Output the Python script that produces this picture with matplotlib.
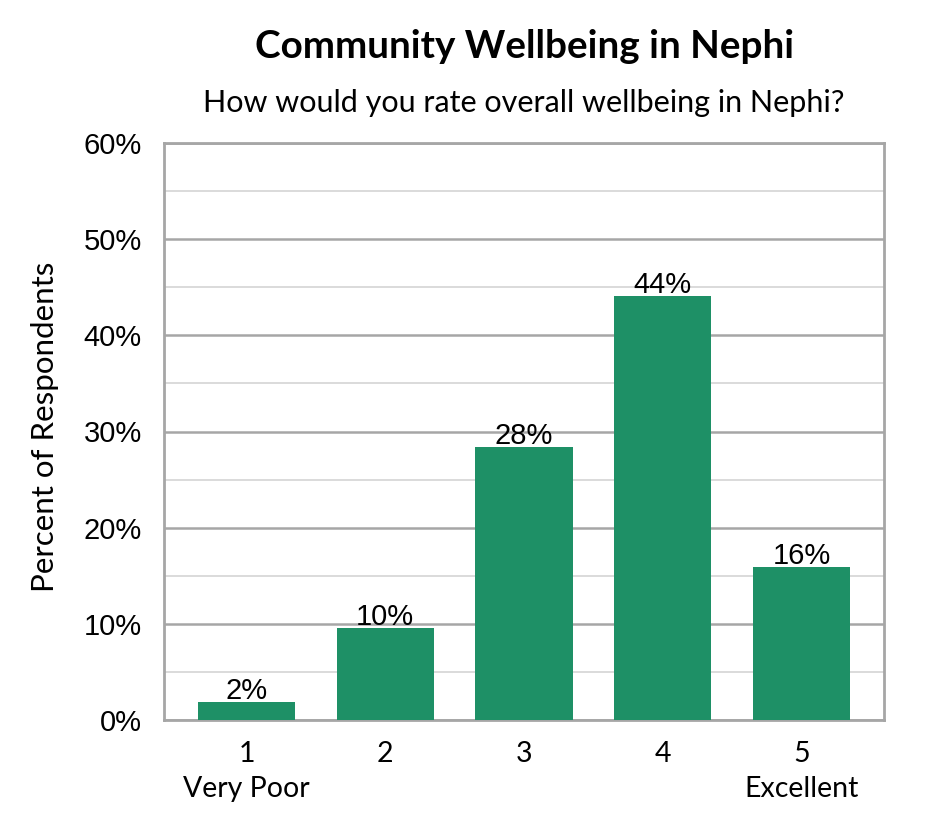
import matplotlib
matplotlib.use("Agg")
import matplotlib.pyplot as plt
from matplotlib.ticker import MultipleLocator, FuncFormatter

categories = ["1\nVery Poor", "2", "3", "4", "5\nExcellent"]
values = [1.9, 9.6, 28.4, 44.1, 15.9]
labels = ["2%", "10%", "28%", "44%", "16%"]
title = "Community Wellbeing in Nephi"
subtitle = "How would you rate overall wellbeing in Nephi?"
ylabel = "Percent of Respondents"

BAR = "#1e9066"
GRID_MAJ = "#a6a6a6"
GRID_MIN = "#d4d4d4"
SANS = ["Lato", "DejaVu Sans"]
ARIAL = ["Liberation Sans", "DejaVu Sans"]

fig = plt.figure(figsize=(9.45, 8.4), dpi=100)
ax = fig.add_axes([164/945, 1-720/840, (884-164)/945, (720-143)/840])

x = list(range(len(categories)))
ax.bar(x, values, width=0.7, color=BAR, zorder=3)
for xi, v, lab in zip(x, values, labels):
    ax.annotate(lab, (xi, v), xytext=(0, 2.2), textcoords="offset points",
                ha="center", va="baseline", fontsize=21, family=ARIAL,
                color="#000000", zorder=4)

ax.set_xlim(-0.595, 4.595)
ax.set_ylim(0, 60)
ax.yaxis.set_major_locator(MultipleLocator(10))
ax.yaxis.set_minor_locator(MultipleLocator(5))
ax.yaxis.set_major_formatter(FuncFormatter(lambda v, p: f"{int(v)}%"))
ax.grid(axis="y", which="major", color=GRID_MAJ, linewidth=1.8, zorder=1)
ax.grid(axis="y", which="minor", color=GRID_MIN, linewidth=1.2, zorder=1)
ax.set_xticks(x)
ax.set_xticklabels(categories, fontsize=20.5, family=SANS, linespacing=1.45)
for lbl in ax.get_yticklabels():
    lbl.set_family(ARIAL)
    lbl.set_fontsize(21)
ax.tick_params(axis="both", which="both", length=0)
ax.tick_params(axis="y", pad=16)
ax.tick_params(axis="x", pad=15)
for s in ax.spines.values():
    s.set_color(GRID_MAJ)
    s.set_linewidth(2)

fig.text(45/945, 1-427/840, ylabel, rotation=90, ha="center", va="center",
         fontsize=22.5, family=SANS)
fig.text(525/945, 1-47/840, title, ha="center", va="center", fontsize=27.8,
         fontweight="bold", family=SANS)
fig.text(524/945, 1-103/840, subtitle, ha="center", va="center", fontsize=22,
         family=SANS)

fig.savefig("out.png", dpi=100, facecolor="white")
